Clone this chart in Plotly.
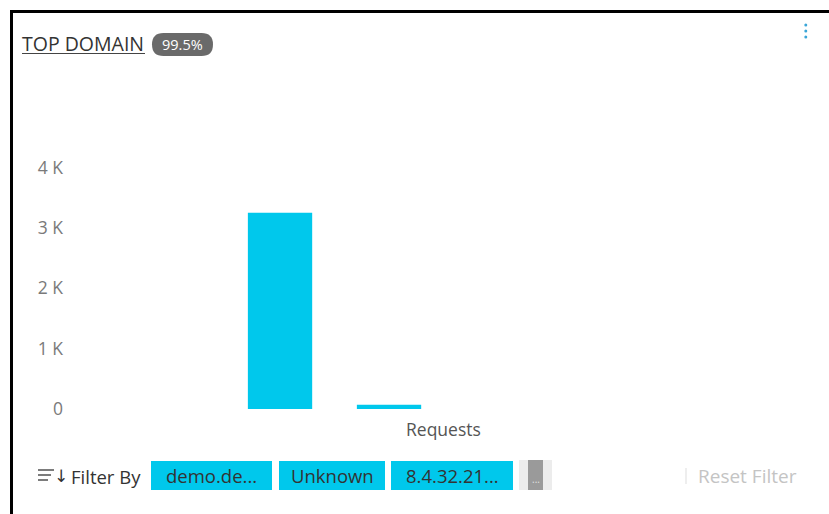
import plotly.graph_objects as go

# ---- data ----
category = ["Requests"]
series_names = ["demo.de...", "Unknown", "8.4.32.21...", "..."]
series_values = [3250, 70, 0, 0]
tick_values = [0, 1000, 2000, 3000, 4000]
tick_labels = ["0", "1 K", "2 K", "3 K", "4 K"]
title_text = "TOP DOMAIN"
badge_text = "99.5%"
filter_chips = ["demo.de...", "Unknown", "8.4.32.21..."]

W_FIG, H_FIG = 829, 514
ML, MR, MT, MB = 70, 14, 107, 105
PW = W_FIG - ML - MR
PH = H_FIG - MT - MB
CYAN = "#00c8ec"
FONT = "Open Sans"


def px(x):
    return (x - ML) / PW


def py(y):
    return (H_FIG - MB - y) / PH


fig = go.Figure()
for name, val in zip(series_names, series_values):
    fig.add_trace(go.Bar(x=category, y=[val], name=name,
                         marker=dict(color=CYAN, line=dict(width=0))))

shapes = []
annotations = []

# card border (top + left)
shapes.append(dict(type="rect", xref="paper", yref="paper",
                   x0=px(10), x1=px(829), y0=py(13), y1=py(10),
                   fillcolor="black", line=dict(width=0), layer="above"))
shapes.append(dict(type="rect", xref="paper", yref="paper",
                   x0=px(10), x1=px(13), y0=py(514), y1=py(10),
                   fillcolor="black", line=dict(width=0), layer="above"))

# title + underline
annotations.append(dict(text=title_text, xref="paper", yref="paper",
                        x=px(20), y=py(43), xanchor="left", yanchor="middle",
                        showarrow=False, font=dict(family=FONT, size=19.5, color="#333333")))
shapes.append(dict(type="line", xref="paper", yref="paper",
                   x0=px(22), x1=px(145), y0=py(53.5), y1=py(53.5),
                   line=dict(color="#444444", width=1)))


def pill(x0, x1, y0, y1, r):
    X = lambda v: px(v)
    Y = lambda v: py(v)
    return (f"M {X(x0 + r)} {Y(y0)} L {X(x1 - r)} {Y(y0)} "
            f"Q {X(x1)} {Y(y0)} {X(x1)} {Y(y0 + r)} L {X(x1)} {Y(y1 - r)} "
            f"Q {X(x1)} {Y(y1)} {X(x1 - r)} {Y(y1)} L {X(x0 + r)} {Y(y1)} "
            f"Q {X(x0)} {Y(y1)} {X(x0)} {Y(y1 - r)} L {X(x0)} {Y(y0 + r)} "
            f"Q {X(x0)} {Y(y0)} {X(x0 + r)} {Y(y0)} Z")


# badge
shapes.append(dict(type="path", xref="paper", yref="paper",
                   path=pill(152, 213, 33, 56, 11.5),
                   fillcolor="#6a6a6a", line=dict(width=0)))
annotations.append(dict(text=badge_text, xref="paper", yref="paper",
                        x=px(182.5), y=py(44.5), xanchor="center", yanchor="middle",
                        showarrow=False, font=dict(family=FONT, size=14.5, color="white")))

# kebab menu
for yy in (25, 31, 37):
    shapes.append(dict(type="circle", xref="paper", yref="paper",
                       x0=px(804.3), x1=px(807.3), y0=py(yy + 1.5), y1=py(yy - 1.5),
                       fillcolor="#3aa6d8", line=dict(width=0)))

# filter icon
for (xa, xb, yy) in [(38, 54, 470), (38, 51, 475), (38, 48, 480)]:
    shapes.append(dict(type="line", xref="paper", yref="paper",
                       x0=px(xa), x1=px(xb), y0=py(yy), y1=py(yy),
                       line=dict(color="#444444", width=1.4)))
annotations.append(dict(text="↓", xref="paper", yref="paper",
                        x=px(52), y=py(476), xanchor="left", yanchor="middle",
                        showarrow=False, font=dict(family="DejaVu Sans", size=17, color="#333333")))
annotations.append(dict(text="Filter By", xref="paper", yref="paper",
                        x=px(69), y=py(476), xanchor="left", yanchor="middle",
                        showarrow=False, font=dict(family=FONT, size=18.5, color="#333333")))

# chips
chip_x = [(151, 272), (279, 385), (391, 513)]
for label, (xa, xb) in zip(filter_chips, chip_x):
    shapes.append(dict(type="rect", xref="paper", yref="paper",
                       x0=px(xa), x1=px(xb), y0=py(490), y1=py(461),
                       fillcolor=CYAN, line=dict(width=0)))
    annotations.append(dict(text=label, xref="paper", yref="paper",
                            x=px((xa + xb) / 2), y=py(475.5), xanchor="center", yanchor="middle",
                            showarrow=False, font=dict(family=FONT, size=18.5, color="#333333")))

# overflow chip
shapes.append(dict(type="rect", xref="paper", yref="paper",
                   x0=px(519), x1=px(552), y0=py(490), y1=py(460),
                   fillcolor="#ececec", line=dict(width=0)))
shapes.append(dict(type="rect", xref="paper", yref="paper",
                   x0=px(528), x1=px(543), y0=py(490), y1=py(460),
                   fillcolor="#9a9a9a", line=dict(width=0)))
annotations.append(dict(text="...", xref="paper", yref="paper",
                        x=px(535.5), y=py(479), xanchor="center", yanchor="middle",
                        showarrow=False, font=dict(family=FONT, size=10, color="#e0e0e0")))

# reset filter
shapes.append(dict(type="line", xref="paper", yref="paper",
                   x0=px(686), x1=px(686), y0=py(468), y1=py(484),
                   line=dict(color="#dddddd", width=1)))
annotations.append(dict(text="Reset Filter", xref="paper", yref="paper",
                        x=px(696), y=py(476), xanchor="left", yanchor="middle",
                        showarrow=False, font=dict(family=FONT, size=19, color="#c4c4c4")))

# x-axis category label
annotations.append(dict(text=category[0], xref="x", yref="paper",
                        x=0, y=py(429), xanchor="center", yanchor="middle",
                        showarrow=False, font=dict(family=FONT, size=17.5, color="#555555")))

fig.update_layout(
    width=W_FIG, height=H_FIG,
    margin=dict(l=ML, r=MR, t=MT, b=MB, autoexpand=False),
    paper_bgcolor="white", plot_bgcolor="white",
    barmode="group", bargap=0.0, bargroupgap=0.41,
    showlegend=False,
    shapes=shapes, annotations=annotations,
    font=dict(family=FONT),
    xaxis=dict(range=[-0.8567, 0.852], showticklabels=False, showgrid=False,
               zeroline=False, showline=False, ticks="", automargin=False, fixedrange=True),
    yaxis=dict(range=[0, 5000], tickvals=tick_values, ticktext=tick_labels,
               showgrid=False, zeroline=False, showline=False, ticks="",
               tickfont=dict(family=FONT, size=17.5, color="#7a7a7a"),
               ticklabelstandoff=6, automargin=False, fixedrange=True),
)

fig.write_html("out.html", config={"displayModeBar": False},
               post_script="document.body.style.margin='0px';document.body.style.overflow='hidden';")
